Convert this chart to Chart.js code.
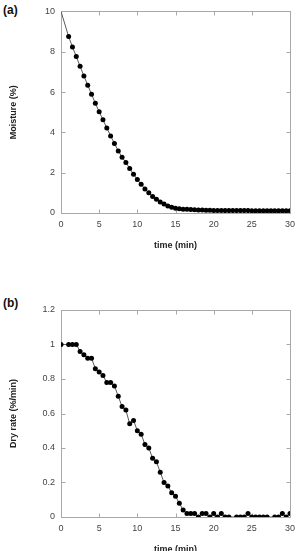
<!DOCTYPE html>
<html>
<head>
<meta charset="utf-8">
<script src="https://cdn.jsdelivr.net/npm/chart.js@4.4.1/dist/chart.umd.min.js"></script>
<style>
  html, body { margin: 0; padding: 0; background: #fff; }
  body { position: relative; width: 306px; height: 551px; overflow: hidden; }
  canvas { position: absolute; left: 0; }
  #chartA { top: 0; }
  #chartB { top: 290px; }
  .tag { position: absolute; left: 3px; font: bold 12px "Liberation Sans", Arial, sans-serif; color: #111; }
</style>
</head>
<body>
<div class="tag" style="top:3px">(a)</div>
<div class="tag" style="top:296px">(b)</div>
<canvas id="chartA" width="306" height="255"></canvas>
<canvas id="chartB" width="306" height="269"></canvas>
<script>
/* --- Data ----------------------------------------------------------------- */
const time = [0, 0.5, 1, 1.5, 2, 2.5, 3, 3.5, 4, 4.5, 5, 5.5, 6, 6.5, 7, 7.5, 8, 8.5, 9, 9.5,
  10, 10.5, 11, 11.5, 12, 12.5, 13, 13.5, 14, 14.5, 15, 15.5, 16, 16.5, 17, 17.5, 18, 18.5, 19, 19.5,
  20, 20.5, 21, 21.5, 22, 22.5, 23, 23.5, 24, 24.5, 25, 25.5, 26, 26.5, 27, 27.5, 28, 28.5, 29, 29.5, 30];

const moisture = [10, null, 8.75, 8.24, 7.76, 7.28, 6.80, 6.34, 5.89, 5.44, 5.02, 4.62, 4.22, 3.82, 3.45, 3.08, 2.77, 2.50, 2.21, 1.92,
  1.66, 1.42, 1.19, 1.00, 0.82, 0.68, 0.55, 0.45, 0.35, 0.28, 0.24, 0.21, 0.19, 0.18, 0.17, 0.16, 0.15, 0.15, 0.14, 0.14,
  0.13, 0.13, 0.13, 0.12, 0.12, 0.12, 0.12, 0.12, 0.12, 0.12, 0.11, 0.11, 0.11, 0.11, 0.11, 0.11, 0.11, 0.11, 0.11, 0.11, 0.11];

const dryRate = [1.00, null, 1.00, 1.00, 1.00, 0.96, 0.94, 0.92, 0.92, 0.86, 0.84, 0.82, 0.78, 0.78, 0.76, 0.70, 0.64, 0.62, 0.54, 0.56,
  0.50, 0.48, 0.42, 0.40, 0.34, 0.32, 0.26, 0.20, 0.18, 0.14, 0.12, 0.08, 0.04, 0.02, 0.02, 0.02, 0, 0.02, 0.02, 0,
  0.02, 0, 0.02, 0, 0, null, 0, 0, 0, 0.02, 0, 0, 0, 0, 0, null, 0, 0, 0.02, 0, 0.02];

const xTicks = [0, 5, 10, 15, 20, 25, 30];
const moistureTicks = [0, 2, 4, 6, 8, 10];
const rateTicks = [0, 0.2, 0.4, 0.6, 0.8, 1, 1.2];

/* --- Helpers -------------------------------------------------------------- */
const FONT = '"Liberation Sans", Arial, sans-serif';

// box round the plot area with small inward ticks on all four sides
const frame = {
  id: 'frame',
  beforeDatasetsDraw(chart) {
    const { ctx, chartArea: a, scales: { x, y } } = chart;
    const L = Math.round(a.left) + .5, R = Math.round(a.right) + .5;
    const T = Math.round(a.top) + .5, B = Math.round(a.bottom) + .5;
    ctx.save();
    ctx.strokeStyle = '#a8a8a8';
    ctx.lineWidth = 1;
    ctx.strokeRect(L, T, R - L, B - T);
    ctx.beginPath();
    x.ticks.forEach(t => {
      const p = Math.round(x.getPixelForValue(t.value)) + .5;
      ctx.moveTo(p, B); ctx.lineTo(p, B - 4);
      ctx.moveTo(p, T); ctx.lineTo(p, T + 4);
    });
    y.ticks.forEach(t => {
      const p = Math.round(y.getPixelForValue(t.value)) + .5;
      ctx.moveTo(L, p); ctx.lineTo(L + 4, p);
      ctx.moveTo(R, p); ctx.lineTo(R - 4, p);
    });
    ctx.stroke();
    ctx.restore();
  }
};

function makeChart(id, yVals, yTicks, yMax, yTitle, padTop) {
  const pts = time.map((t, i) => ({ x: t, y: yVals[i] }));
  return new Chart(document.getElementById(id), {
    type: 'line',
    data: { datasets: [{
      data: pts,
      borderColor: '#5a5a5a', borderWidth: 1,
      pointBackgroundColor: '#000', pointBorderColor: '#000', pointBorderWidth: 0,
      pointRadius: c => (id === 'chartA' && c.dataIndex === 0 ? 0 : 2.5),
      spanGaps: true, tension: 0
    }]},
    options: {
      responsive: false, animation: false,
      layout: { padding: { top: padTop, right: 16, left: 0, bottom: 0 } },
      plugins: { legend: { display: false }, tooltip: { enabled: false } },
      scales: {
        x: {
          type: 'linear', min: 0, max: 30,
          afterBuildTicks: s => { s.ticks = xTicks.map(v => ({ value: v })); },
          afterFit: s => { s.height = 42; },
          grid: { display: false, drawTicks: false }, border: { display: false },
          ticks: { padding: 6, color: '#444', font: { family: FONT, size: 9 } },
          title: { display: true, text: 'time (min)', color: '#222', padding: { top: 0, bottom: 4 },
                   font: { family: FONT, size: 9, weight: 'bold' } }
        },
        y: {
          type: 'linear', min: 0, max: yMax,
          afterBuildTicks: s => { s.ticks = yTicks.map(v => ({ value: v })); },
          afterFit: s => { s.width = 61; },
          grid: { display: false, drawTicks: false }, border: { display: false },
          ticks: { padding: 6, color: '#444', font: { family: FONT, size: 9 },
                   callback: v => String(+v.toFixed(1)) },
          title: { display: true, text: yTitle, color: '#222', padding: { top: 8, bottom: 0 },
                   font: { family: FONT, size: 9, weight: 'bold' } }
        }
      }
    },
    plugins: [frame]
  });
}

/* --- Kick-off ------------------------------------------------------------- */
makeChart('chartA', moisture, moistureTicks, 10, 'Moisture (%)', 6);
makeChart('chartB', dryRate, rateTicks, 1.2, 'Dry rate (%/min)', 20);
</script>
</body>
</html>
